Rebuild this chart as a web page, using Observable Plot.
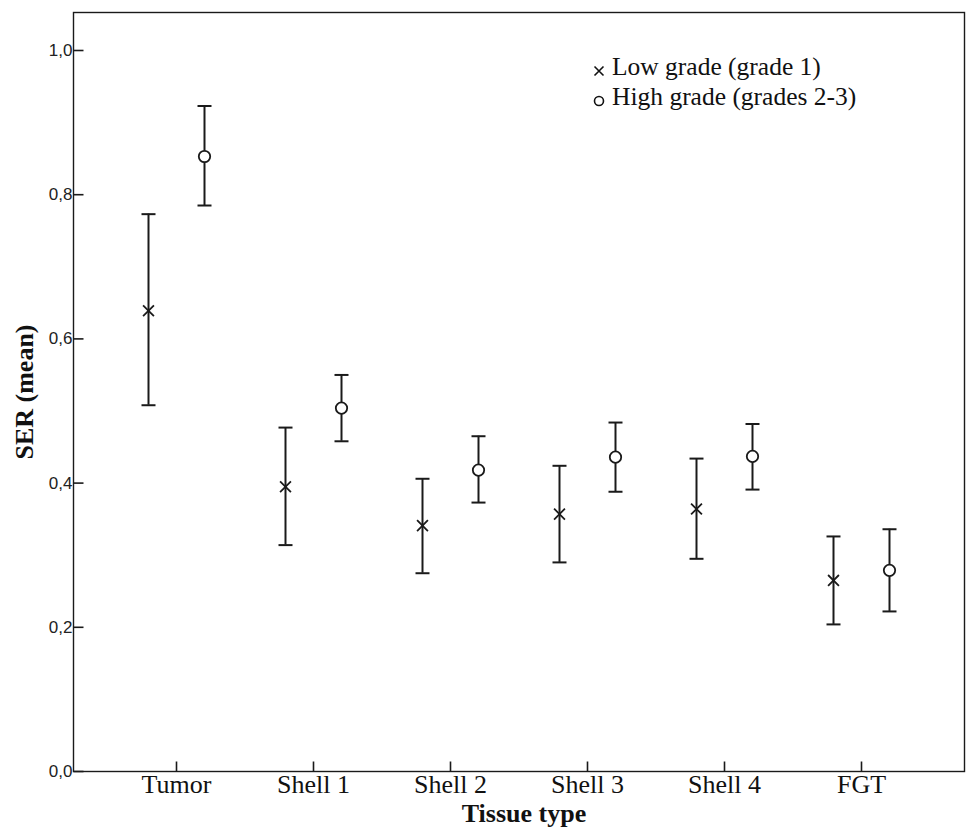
<!DOCTYPE html>
<html>
<head>
<meta charset="utf-8">
<script src="https://cdn.jsdelivr.net/npm/d3@7"></script>
<script src="https://cdn.jsdelivr.net/npm/@observablehq/plot@0.6"></script>
<style>
  html, body { margin: 0; padding: 0; background: #fff; }
  #wrap { position: relative; width: 966px; height: 828px; }
  #legend { position: absolute; left: 0; top: 0; width: 966px; height: 140px; pointer-events: none; }
  .ltext { position: absolute; left: 612px; font: 25.5px "Liberation Serif", "Times New Roman", serif; line-height: 30px; color: #111; white-space: nowrap; }
</style>
</head>
<body>
<div id="wrap">
  <div id="chart"></div>
  <svg id="legend" width="966" height="140">
    <g stroke="#111" stroke-width="1.6" fill="none">
      <path d="M594.5,66.5L603.5,75.5M603.5,66.5L594.5,75.5"></path>
      <circle cx="599" cy="101" r="4.5"></circle>
    </g>
  </svg>
  <div class="ltext" style="top:52px">Low grade (grade 1)</div>
  <div class="ltext" style="top:82px">High grade (grades 2-3)</div>
</div>
<script>
const categories = ["Tumor", "Shell 1", "Shell 2", "Shell 3", "Shell 4", "FGT"];
const lowMean  = [0.639, 0.395, 0.341, 0.357, 0.364, 0.265];
const lowUpper = [0.773, 0.477, 0.406, 0.424, 0.434, 0.326];
const lowLower = [0.508, 0.314, 0.275, 0.290, 0.295, 0.204];
const highMean  = [0.853, 0.504, 0.418, 0.436, 0.437, 0.279];
const highUpper = [0.923, 0.550, 0.465, 0.484, 0.482, 0.336];
const highLower = [0.785, 0.458, 0.373, 0.388, 0.391, 0.222];
const yTicks = [0, 0.2, 0.4, 0.6, 0.8, 1.0];
const yTickLabels = ["0,0", "0,2", "0,4", "0,6", "0,8", "1,0"];

const low = categories.map((c, i) => ({cat: c, mean: lowMean[i], hi: lowUpper[i], lo: lowLower[i]}));
const high = categories.map((c, i) => ({cat: c, mean: highMean[i], hi: highUpper[i], lo: highLower[i]}));

const ink = "#1a1a1a";
const serif = "Liberation Serif";
const sans = "Liberation Sans";
const off = 28;

// horizontal cap symbol for error bars
const capSymbol = {draw(context) { context.moveTo(-7, 0); context.lineTo(7, 0); }};
// inward tick symbols for the axes
const yTickSymbol = {draw(context) { context.moveTo(0, 0); context.lineTo(10, 0); }};
const xTickSymbol = {draw(context) { context.moveTo(0, 0); context.lineTo(0, -10); }};

function series(data, dx, symbol, r, fill) {
  return [
    Plot.ruleX(data, {x: "cat", y1: "lo", y2: "hi", dx, stroke: ink, strokeWidth: 2}),
    Plot.dot(data, {x: "cat", y: "hi", dx, symbol: capSymbol, r: 7, stroke: ink, strokeWidth: 2, fill: "none"}),
    Plot.dot(data, {x: "cat", y: "lo", dx, symbol: capSymbol, r: 7, stroke: ink, strokeWidth: 2, fill: "none"}),
    Plot.dot(data, {x: "cat", y: "mean", dx, symbol, r, stroke: ink, strokeWidth: 1.8, fill})
  ];
}

const chart = Plot.plot({
  width: 966,
  height: 828,
  marginLeft: 73,
  marginRight: 2,
  marginTop: 12,
  marginBottom: 57,
  style: {background: "#fff", color: ink},
  x: {type: "point", domain: categories, padding: 0.733, axis: null},
  y: {domain: [0, 1.0527], axis: null},
  marks: [
    Plot.frame({stroke: ink, strokeWidth: 1.4}),
    Plot.text(yTicks, {y: (d) => d, frameAnchor: "left", text: (d, i) => yTickLabels[i], textAnchor: "end", dx: -1, fontSize: 17, fontFamily: sans, fill: "#222"}),
    Plot.text(categories, {x: (d) => d, frameAnchor: "bottom", lineAnchor: "top", dy: 3, fontSize: 26, fontFamily: serif, fill: "#111"}),
    Plot.dot(yTicks, {y: (d) => d, frameAnchor: "left", symbol: yTickSymbol, r: 10, stroke: ink, strokeWidth: 1.6, fill: "none"}),
    Plot.dot(categories, {x: (d) => d, frameAnchor: "bottom", symbol: xTickSymbol, r: 10, stroke: ink, strokeWidth: 1.6, fill: "none"}),
    ...series(low, -off, "times", 5, "none"),
    ...series(high, off, "circle", 5.7, "white"),
    Plot.text(["SER (mean)"], {frameAnchor: "left", dx: -49, rotate: -90, textAnchor: "middle", fontSize: 26, fontWeight: "bold", fontFamily: serif, fill: "#111", lineAnchor: "middle"}),
    Plot.text(["Tissue type"], {frameAnchor: "bottom", dy: 42, dx: 5, textAnchor: "middle", fontSize: 26, fontWeight: "bold", fontFamily: serif, fill: "#111", lineAnchor: "middle"})
  ]
});
document.getElementById("chart").appendChild(chart);
</script>
</body>
</html>
